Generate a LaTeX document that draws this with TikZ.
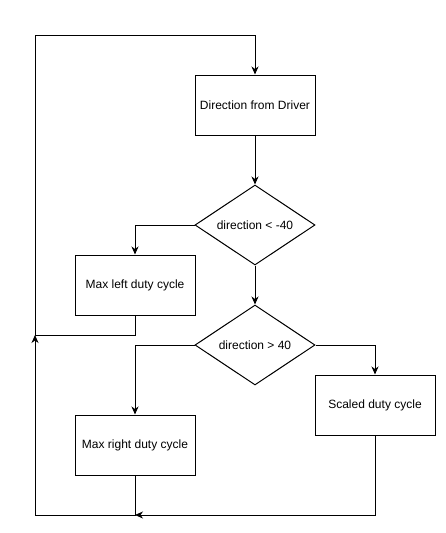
\documentclass[tikz,border=0pt]{standalone}
\usepackage{fontspec}
\setmainfont{Liberation Sans}
\usetikzlibrary{shapes.geometric,arrows.meta}
\begin{document}
\begin{tikzpicture}[x=1pt,y=-1pt,
  boxst/.style={draw,line width=1pt,minimum width=120pt,minimum height=60pt,inner sep=0pt,font=\fontsize{12}{14}\selectfont},
  decst/.style={draw,line width=1pt,diamond,minimum width=120pt,minimum height=80pt,inner sep=0pt,aspect=1.5,font=\fontsize{12}{14}\selectfont},
  arr/.style={line width=1pt,-{Stealth[length=8pt,width=7pt,inset=2.5pt]}},
  ln/.style={line width=1pt}]
\useasboundingbox (0,0) rectangle (446,533);
\node[boxst] (drv) at (255,105) {Direction from Driver};
\node[decst] (d1) at (255,225) {direction < -40};
\node[boxst] (ml) at (135,285) {Max left duty cycle};
\node[decst] (d2) at (255,345) {direction > 40};
\node[boxst] (sc) at (375,405) {Scaled duty cycle};
\node[boxst] (mr) at (135,445) {Max right duty cycle};
\coordinate (j1) at (35,335);
\coordinate (j2) at (135,515);
\draw[arr] (drv.south) -- (d1.north);
\draw[arr] (d1.west) -| (ml.north);
\draw[arr] (d1.south) -- (d2.north);
\draw[arr] (d2.west) -| (mr.north);
\draw[arr] (d2.east) -| (sc.north);
\draw[arr] (sc.south) |- (j2);
\draw[arr] (mr.south) -- (j2) -- (35,515) -- (j1);
\draw[arr] (ml.south) |- (j1) -- (35,35) -| (drv.north);
\end{tikzpicture}
\end{document}
